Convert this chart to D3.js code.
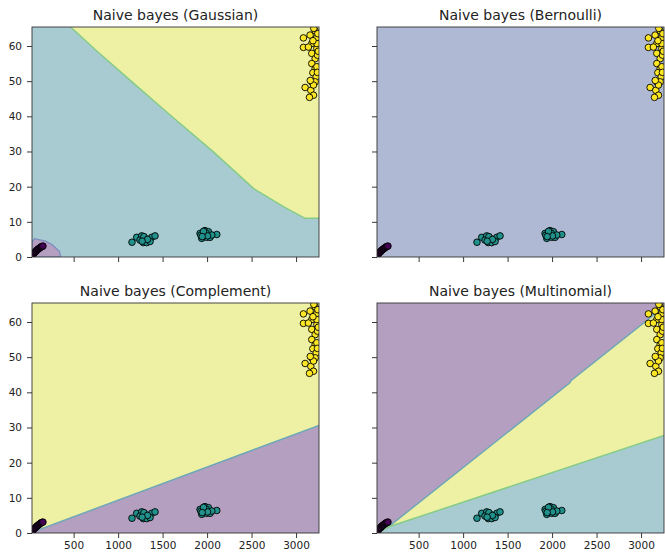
<!DOCTYPE html>
<html>
<head>
<meta charset="utf-8">
<script src="https://cdn.jsdelivr.net/npm/d3@7"></script>
<style>
body { margin: 0; background: #fff; }
svg { display: block; font-family: "DejaVu Sans", sans-serif; }
</style>
</head>
<body>
<svg id="chart" width="665" height="557"></svg>
<script>
// tick labels
const xTicks = [500, 1000, 1500, 2000, 2500, 3000];
const yTicks = [0, 10, 20, 30, 40, 50, 60];
const titles = ['Naive bayes (Gaussian)', 'Naive bayes (Bernoulli)', 'Naive bayes (Complement)', 'Naive bayes (Multinomial)'];

// scatter points [x, y] per class
const class0Pts = [[35,0.4],[45,0.8],[55,1.1],[65,1.4],[75,1.6],[85,1.9],[95,2.1],[105,2.3],[115,2.5],[125,2.7],[135,2.9],[145,3.0],[155,3.1]];
const class1Pts = [[1156,4.2],[1209,5.6],[1265,6.0],[1302,5.3],[1340,4.6],[1378,5.6],[1415,6.0],[1283,4.1],[1321,4.1],[1246,4.8],[1359,4.4],[1290,5.8],[1330,5.0],[1270,4.5],
    [1921,6.7],[1977,7.5],[2015,7.2],[1940,5.3],[1996,5.6],[2034,5.6],[2109,6.4],[1958,6.4],[2053,6.25],[1930,6.2],[1990,6.8],[2005,6.0],[1960,7.3],[1945,5.8]];
const class2Pts = [[3083,62.3],[3083,59.6],[3158,63.1],[3215,64.3],[3177,60.7],[3226,62.1],[3234,59.3],[3177,57.9],[3215,56.4],[3177,55.0],[3215,53.6],[3189,52.4],[3226,51.2],[3177,49.8],[3102,48.2],
    [3215,49.8],[3166,47.4],[3196,46.0],[3151,45.4],[3234,54.1],[3139,59.7],[3241,57.4],[3196,48.9],[3234,60.7],[3200,65.0],[3245,63.5],[3160,50.2],[3250,58.5],[3190,61.5],[3240,52.5]];

// decision boundaries
const gaussBoundary = [[466,65.4],[751,58.8],[1133,50.3],[1565,40.8],[2071,29.9],[2521,19.5],[2858,14.3],[3102,11.0],[3258,11.0]];
const gaussBlob = [[32,4.2],[60,5.2],[185,4.5],[260,3.5],[340,1.6],[355,0]];
const complBoundary = [[32,0.2],[3258,30.6]];
const multiUpper = [[32,0],[158,1.7],[2200,42.7],[2215,43.4],[3258,64.3]];
const multiLower = [[32,0],[158,1.7],[3258,27.7]];

const xDomain = [32, 3258], yDomain = [0, 65.4];
const pw = 287, ph = 230;
const panels = [[32, 27], [377, 27], [32, 303], [377, 303]];

const cPurple = '#b49fc1', cTeal = '#a8cbd1', cYellow = '#eef1a4', cBern = '#b0b9d3';
const ptColor = ['#440154', '#21918c', '#fde725'];

var svg = d3.select('#chart');

var x = d3.scaleLinear().domain(xDomain).range([0, pw]);
var y = d3.scaleLinear().domain(yDomain).range([ph, 0]);
var line = d3.line().x(d => x(d[0])).y(d => y(d[1]));

function drawPanel(i) {
    var ox = panels[i][0], oy = panels[i][1];
    var g = svg.append('g').attr('transform', 'translate(' + ox + ',' + oy + ')');

    g.append('clipPath').attr('id', 'clip' + i)
        .append('rect').attr('width', pw).attr('height', ph);
    var plot = g.append('g').attr('clip-path', 'url(#clip' + i + ')');

    if (i == 0) {
        plot.append('rect').attr('width', pw).attr('height', ph).attr('fill', cTeal);
        plot.append('path').attr('d', line(gaussBoundary.concat([[xDomain[1], yDomain[1]]])) + 'Z').attr('fill', cYellow);
        plot.append('path').attr('d', line(gaussBoundary)).attr('fill', 'none').attr('stroke', '#86cc86').attr('stroke-width', 1.5);
        plot.append('path').attr('d', line([[xDomain[0], 0]].concat(gaussBlob)) + 'Z').attr('fill', cPurple)
            .attr('stroke', '#7c8fc0').attr('stroke-width', 1.3);
    } else if (i == 1) {
        plot.append('rect').attr('width', pw).attr('height', ph).attr('fill', cBern);
    } else if (i == 2) {
        plot.append('rect').attr('width', pw).attr('height', ph).attr('fill', cYellow);
        plot.append('path').attr('d', line(complBoundary.concat([[xDomain[1], 0], [xDomain[0], 0]])) + 'Z').attr('fill', cPurple);
        plot.append('path').attr('d', line(complBoundary)).attr('fill', 'none').attr('stroke', '#6fa7b7').attr('stroke-width', 1.5);
    } else {
        plot.append('rect').attr('width', pw).attr('height', ph).attr('fill', cPurple);
        plot.append('path').attr('d', line(multiUpper.concat([[xDomain[1], 0]])) + 'Z').attr('fill', cYellow);
        plot.append('path').attr('d', line(multiLower.concat([[xDomain[1], 0]])) + 'Z').attr('fill', cTeal);
        plot.append('path').attr('d', line(multiUpper)).attr('fill', 'none').attr('stroke', '#6fa7b7').attr('stroke-width', 1.5);
        plot.append('path').attr('d', line(multiLower)).attr('fill', 'none').attr('stroke', '#86cc86').attr('stroke-width', 1.5);
    }

    [class0Pts, class1Pts, class2Pts].forEach(function(pts, c) {
        plot.selectAll(null).data(pts).enter().append('circle')
            .attr('cx', d => x(d[0])).attr('cy', d => y(d[1]))
            .attr('r', 3.3)
            .attr('fill', ptColor[c])
            .attr('stroke', '#000').attr('stroke-width', 0.9);
    });

    // axes
    var xa = g.append('g').attr('transform', 'translate(0,' + ph + ')')
        .call(d3.axisBottom(x).tickValues(xTicks).tickSize(5).tickPadding(4).tickFormat(i >= 2 ? d3.format('d') : ''));
    var ya = g.append('g')
        .call(d3.axisLeft(y).tickValues(yTicks).tickSize(5).tickPadding(5).tickFormat(i % 2 == 0 ? d3.format('d') : ''));
    [xa, ya].forEach(a => {
        a.select('.domain').remove();
        a.selectAll('line').attr('stroke', '#222').attr('stroke-width', 0.9);
        a.selectAll('text').attr('fill', '#222').style('font-size', '10.5px').style('font-family', '"DejaVu Sans", sans-serif');
    });

    g.append('rect').attr('width', pw).attr('height', ph)
        .attr('fill', 'none').attr('stroke', '#333').attr('stroke-width', 0.9);

    g.append('text').attr('x', pw / 2).attr('y', -7)
        .attr('text-anchor', 'middle')
        .style('font-size', '14px').attr('fill', '#222')
        .text(titles[i]);
}

for (var i = 0; i < 4; i++) drawPanel(i);
</script>
</body>
</html>
